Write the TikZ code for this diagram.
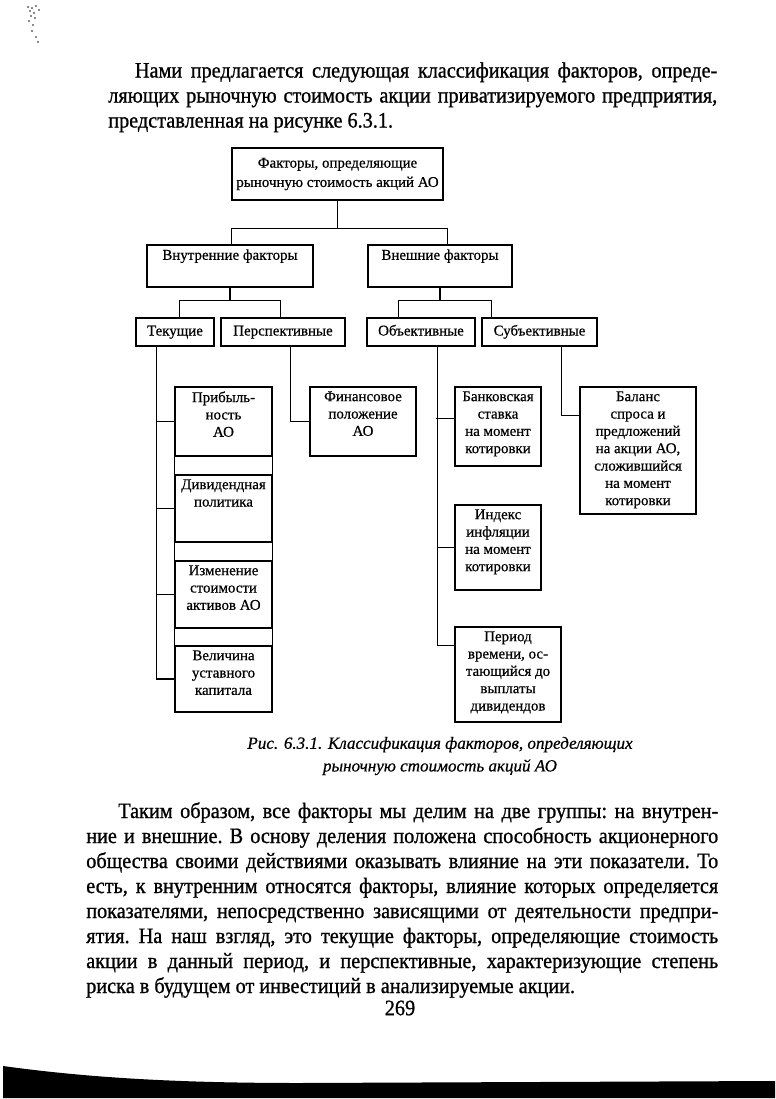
\documentclass[tikz,border=0pt]{standalone}
\usepackage{fontspec}
\setmainfont{Liberation Serif}[FakeBold=0.6]
\newfontfamily\bodyface{Liberation Serif}[FakeStretch=0.92, FakeBold=0.9]
\usetikzlibrary{calc,fit}

\newcommand{\boxfont}{\fontsize{11.2}{13}\selectfont}
\newcommand{\bodyfont}{\bodyface\fontsize{16.5}{18.75}\selectfont\frenchspacing}

\begin{document}
\begin{tikzpicture}[
  x=0.75pt, y=-0.75pt,
  factor/.style={draw, line width=0.8pt, inner sep=0pt},
  lbl/.style={anchor=north, align=center, font=\boxfont, inner sep=3.5pt},
  mid/.style={lbl, anchor=center, text height=1.6ex, text depth=.45ex},
  link/.style={line width=0.8pt},
  body/.style={anchor=north west, inner sep=0pt, align=justify, font=\bodyfont}
]
\useasboundingbox (0,0) rectangle (775,1099);

% text above the figure
\node[body, text width=456.75pt] (intro) at (108,62) {\hyphenpenalty=10000
  \hspace*{20pt}Нами предлагается следующая классификация факторов, опреде-\linebreak
  ляющих рыночную стоимость акции приватизируемого предприятия,\linebreak
  представленная на рисунке 6.3.1.};

% levels 1-3
\node[factor, fit={(232,148)(443,200)},
  label={[lbl, anchor=center, font=\fontsize{11.2}{14.5}\selectfont]center:{Факторы, определяющие\\рыночную стоимость акций АО}}] (root) {};
\node[factor, fit={(147,245)(313,287)}, label={[lbl]north:Внутренние факторы}] (inner) {};
\node[factor, fit={(368,245)(512,287)}, label={[lbl]north:Внешние факторы}] (outer) {};
\node[factor, fit={(136,318)(214,346)}, label={[mid]center:Текущие}] (cur) {};
\node[factor, fit={(221,318)(345,346)}, label={[mid]center:Перспективные}] (persp) {};
\node[factor, fit={(367,318)(475,346)}, label={[mid]center:Объективные}] (obj) {};
\node[factor, fit={(482,318)(597,346)}, label={[mid]center:Субъективные}] (subj) {};

% current factors
\node[factor, fit={(175,387)(272,456)}, label={[lbl]north:{Прибыль-\\ность\\АО}}] (prof) {};
\node[factor, fit={(175,475)(272,542)}, label={[lbl]north:{Дивидендная\\политика}}] (div) {};
\node[factor, fit={(175,561)(272,628)}, label={[lbl]north:{Изменение\\стоимости\\активов АО}}] (assets) {};
\node[factor, fit={(175,646)(272,712)}, label={[lbl]north:{Величина\\уставного\\капитала}}] (capital) {};

% the rest
\node[factor, fit={(310,387)(416,456)}, label={[lbl]north:{Финансовое\\положение\\АО}}] (fin) {};
\node[factor, fit={(455,387)(541,466)}, label={[lbl]north:{Банковская\\ставка\\на момент\\котировки}}] (rate) {};
\node[factor, fit={(455,505)(541,590)}, label={[lbl]north:{Индекс\\инфляции\\на момент\\котировки}}] (infl) {};
\node[factor, fit={(455,627)(561,722)},
  label={[lbl]north:{Период\\времени, ос-\\тающийся до\\выплаты\\дивидендов}}] (period) {};
\node[factor, fit={(580,387)(696,514)},
  label={[lbl]north:{Баланс\\спроса и\\предложений\\на акции АО,\\сложившийся\\на момент\\котировки}}] (balance) {};

% tree lines
\draw[link] (root.south) -- ++(0,28) coordinate (j0);
\draw[link] ($(inner.north west)!.51!(inner.north east)$) |- (j0) -| ($(outer.north west)!.55!(outer.north east)$);
\draw[link] (inner.south) -- ++(0,13) coordinate (j1);
\draw[link] ($(cur.north west)!.56!(cur.north east)$) |- (j1) -| ($(persp.north west)!.48!(persp.north east)$);
\draw[link] (outer.south) -- ++(0,13) coordinate (j2);
\draw[link] ($(obj.north west)!.29!(obj.north east)$) |- (j2) -| ($(subj.north west)!.09!(subj.north east)$);

\draw[link] ($(cur.south west)!.27!(cur.south east)$) coordinate (t0) |- (capital.west);
\foreach \b in {prof,div,assets}
  \draw[link] (\b.west) -- (\b.west -| t0);
\foreach \a/\b in {prof/div,div/assets,assets/capital}
  \draw[link] (\a.south west) -- (\b.north west) (\a.south east) -- (\b.north east);

\draw[link] ($(persp.south west)!.56!(persp.south east)$) |- (fin.west);

\draw[link] ($(obj.south west)!.65!(obj.south east)$) coordinate (o0) |- ($(period.north west)!.2!(period.south west)$);
\draw[link] ($(rate.north west)!.4!(rate.south west)$) -- +(-18,0);
\draw[link] (infl.west) -- (infl.west -| o0);

\draw[link] ($(subj.south west)!.69!(subj.south east)$) |- ($(balance.north west)!.23!(balance.south west)$);

% caption
\node[align=center, font=\fontsize{12.8}{17}\selectfont\itshape] (caption) at (440,756)
  {Рис. 6.3.1. Классификация факторов, определяющих\\рыночную стоимость акций АО};

% text below the figure
\node[body, text width=474pt] (outro) at (86,802) {\hyphenpenalty=10000
  \hspace*{24pt}Таким образом, все факторы мы делим на две группы: на внутрен-\linebreak
  ние и внешние. В основу деления положена способность акционерного\linebreak
  общества своими действиями оказывать влияние на эти показатели. То\linebreak
  есть, к внутренним относятся факторы, влияние которых определяется\linebreak
  показателями, непосредственно зависящими от деятельности предпри-\linebreak
  ятия. На наш взгляд, это текущие факторы, определяющие стоимость\linebreak
  акции в данный период, и перспективные, характеризующие степень\linebreak
  риска в будущем от инвестиций в анализируемые акции.};

\node[font=\bodyfont] (pagenum) at (400,1008) {269};

% scan edge
\fill (3,1066) .. controls (90,1078) and (180,1083) .. (300,1083) -- (775,1081) -- (775,1098) -- (3,1098) -- cycle;
\foreach \sx/\sy in {27/6,31/7,35/5,29/10,33/12,38/9,30/15,34/17,28/20,32/24,31/30,35/36,37/41}
  \fill[black!45] (\sx,\sy) rectangle ++(2,2);
\end{tikzpicture}
\end{document}
